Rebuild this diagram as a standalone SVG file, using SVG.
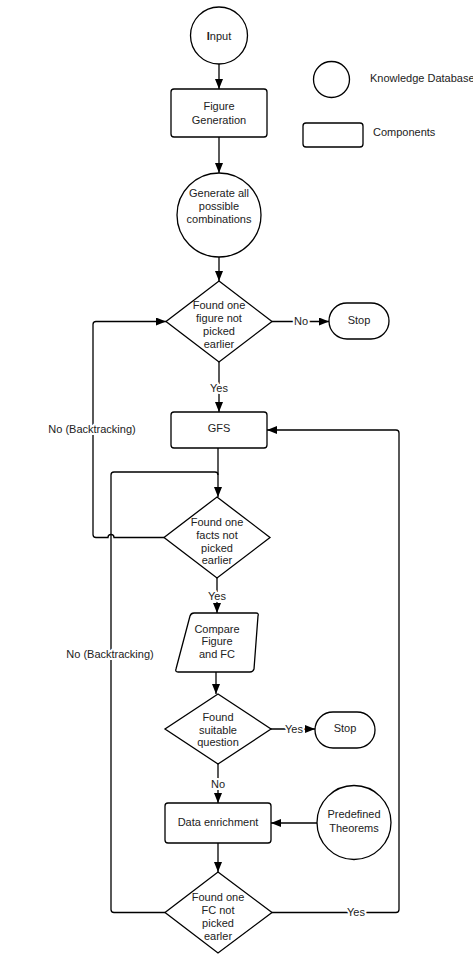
<svg xmlns="http://www.w3.org/2000/svg" width="473" height="956" viewBox="0 0 473 956">
<style>
.n{fill:#fff;stroke:#000;stroke-width:1.3}
.t{font-family:"Liberation Sans",Arial,sans-serif;font-size:11px;fill:#222;text-anchor:middle}
.l{font-family:"Liberation Sans",Arial,sans-serif;font-size:11px;fill:#222}
.c{fill:none;stroke:#000;stroke-width:1.3}
.lb{font-family:"Liberation Sans",Arial,sans-serif;font-size:11px;fill:#222;text-anchor:middle;stroke:#fff;stroke-width:4;paint-order:stroke;stroke-linejoin:round}
</style>
<defs>
<marker id="ah" markerUnits="userSpaceOnUse" markerWidth="10" markerHeight="8" refX="10" refY="4" orient="auto">
<path d="M0,0 L10,4 L0,8 z" fill="#000"/>
</marker>
</defs>
<rect width="473" height="956" fill="#fff"/>
<g id="connectors">
<path class="c" d="M219 64 L219 89" marker-end="url(#ah)"/>
<path class="c" d="M219 137 L219 173" marker-end="url(#ah)"/>
<path class="c" d="M219 257 L219 281" marker-end="url(#ah)"/>
<path class="c" d="M272 321.5 L329 321.5" marker-end="url(#ah)"/>
<text class="lb" x="301" y="325">No</text>
<path class="c" d="M219 362 L219 412" marker-end="url(#ah)"/>
<text class="lb" x="219" y="392">Yes</text>
<path class="c" d="M218 448 L218 497" marker-end="url(#ah)"/>
<path class="c" d="M164 537.5 L114 537.5 A3 3 0 0 0 108 537.5 L96 537.5 Q93 537.5 93 534.5 L93 324.5 Q93 321.5 96 321.5 L166 321.5" marker-end="url(#ah)"/>
<text class="lb" x="92" y="433">No (Backtracking)</text>
<path class="c" d="M217 578 L217 613" marker-end="url(#ah)"/>
<text class="lb" x="217" y="600">Yes</text>
<path class="c" d="M216 672 L216 694" marker-end="url(#ah)"/>
<path class="c" d="M271 729 L315 729" marker-end="url(#ah)"/>
<text class="lb" x="294" y="733">Yes</text>
<path class="c" d="M218 764 L218 803" marker-end="url(#ah)"/>
<text class="lb" x="218" y="788">No</text>
<path class="c" d="M317 823 L271 823" marker-end="url(#ah)"/>
<path class="c" d="M218 843 L218 872" marker-end="url(#ah)"/>
<path class="c" d="M165 912.5 L114 912.5 Q111 912.5 111 909.5 L111 475 Q111 472 114 472 L215 472 Q218 472 218 475"/>
<text class="lb" x="110" y="658">No (Backtracking)</text>
<path class="c" d="M272 912.5 L396 912.5 Q399 912.5 399 909.5 L399 433 Q399 430 396 430 L267 430" marker-end="url(#ah)"/>
<text class="lb" x="356" y="916">Yes</text>
</g>
<g id="input">
<circle class="n" cx="219" cy="35.5" r="28.5"/>
<text class="t" x="219" y="40"><tspan font-weight="bold">I</tspan>nput</text>
</g>
<g id="figure-generation">
<rect class="n" x="171" y="89" width="96" height="48" rx="3"/>
<text class="t" x="219" y="110">Figure</text>
<text class="t" x="219" y="124">Generation</text>
</g>
<g id="generate-combinations">
<circle class="n" cx="219" cy="215" r="42"/>
<text class="t" x="219" y="197">Generate all</text>
<text class="t" x="219" y="210">possible</text>
<text class="t" x="219" y="223">combinations</text>
</g>
<g id="legend-knowledge">
<circle class="n" cx="331.5" cy="79.5" r="18"/>
<text class="l" x="370" y="82">Knowledge Database</text>
</g>
<g id="legend-components">
<rect class="n" x="303" y="123" width="60" height="24" rx="3"/>
<text class="l" x="373" y="136">Components</text>
</g>
<g id="decision-figure">
<polygon class="n" points="219,281 272,321.5 219,362 166,321.5"/>
<text class="t" x="219" y="309">Found one</text>
<text class="t" x="219" y="322">figure not</text>
<text class="t" x="219" y="335">picked</text>
<text class="t" x="219" y="348">earlier</text>
</g>
<g id="stop1">
<rect class="n" x="329" y="303" width="60" height="36" rx="18"/>
<text class="t" x="359" y="324">Stop</text>
</g>
<g id="gfs">
<rect class="n" x="171" y="412" width="96" height="36" rx="3"/>
<text class="t" x="219" y="432">GFS</text>
</g>
<g id="decision-facts">
<polygon class="n" points="217,497 270,537.5 217,578 164,537.5"/>
<text class="t" x="217" y="526">Found one</text>
<text class="t" x="217" y="539">facts not</text>
<text class="t" x="217" y="552">picked</text>
<text class="t" x="217" y="564">earlier</text>
</g>
<g id="compare">
<path class="n" d="M194 613 L256 613 Q259 613 258 616 L254 669 Q253 672 250 672 L178 672 Q175 672 176 669 L190 616 Q191 613 194 613 Z"/>
<text class="t" x="217" y="633">Compare</text>
<text class="t" x="217" y="645">Figure</text>
<text class="t" x="217" y="658">and FC</text>
</g>
<g id="decision-question">
<polygon class="n" points="218,694 271,729 218,764 165,729"/>
<text class="t" x="218" y="721">Found</text>
<text class="t" x="218" y="734">suitable</text>
<text class="t" x="218" y="746">question</text>
</g>
<g id="stop2">
<rect class="n" x="315" y="712" width="60" height="36" rx="18"/>
<text class="t" x="345" y="732">Stop</text>
</g>
<g id="data-enrichment">
<rect class="n" x="165" y="803" width="106" height="40" rx="3"/>
<text class="t" x="218" y="826">Data enrichment</text>
</g>
<g id="predefined-theorems">
<circle class="n" cx="354" cy="822.5" r="37"/>
<text class="t" x="354" y="818">Predefined</text>
<text class="t" x="354" y="832">Theorems</text>
</g>
<g id="decision-fc">
<polygon class="n" points="218,872 272,912.5 218,953 165,912.5"/>
<text class="t" x="218" y="901">Found one</text>
<text class="t" x="218" y="914">FC not</text>
<text class="t" x="218" y="927">picked</text>
<text class="t" x="218" y="940">earler</text>
</g>
</svg>
